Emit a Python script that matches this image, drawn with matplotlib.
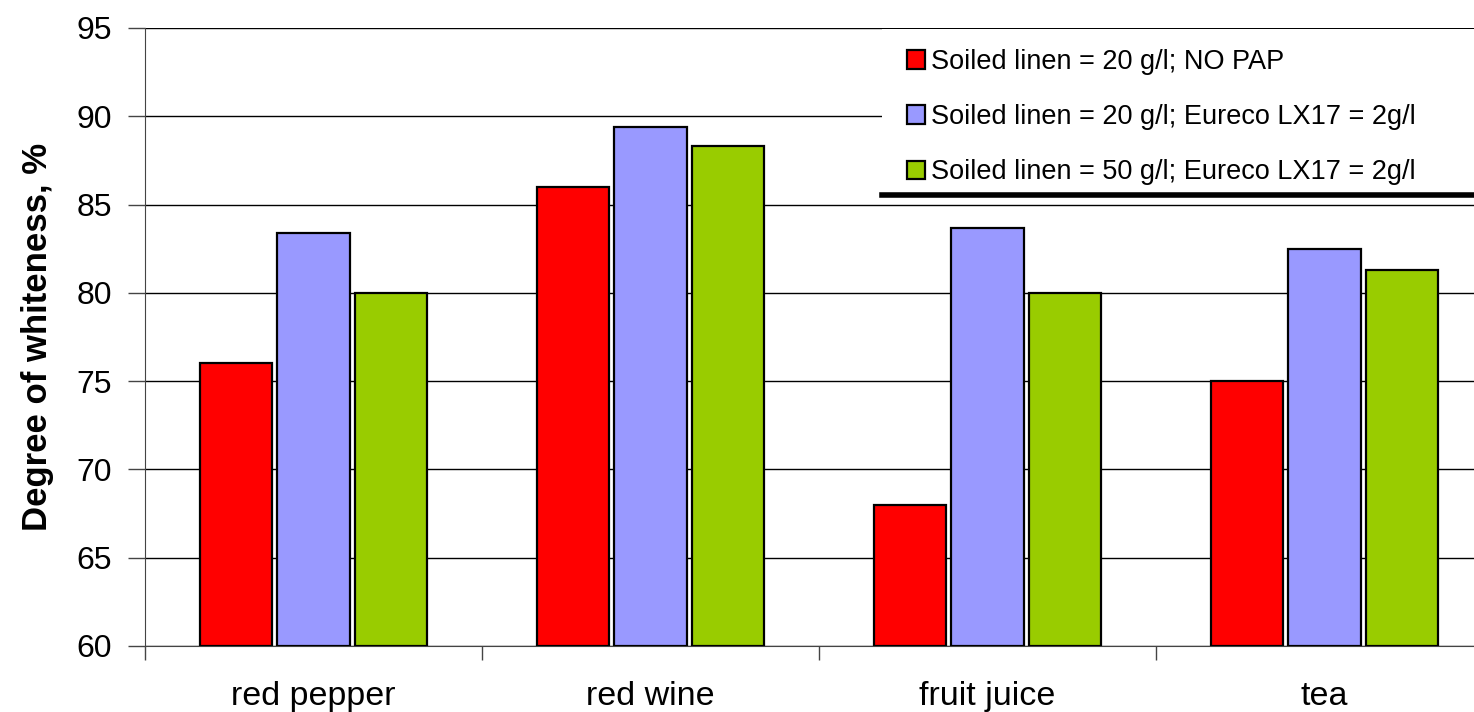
import numpy as np
import matplotlib
matplotlib.use("Agg")
import matplotlib.pyplot as plt
from matplotlib.patches import Rectangle
from matplotlib.lines import Line2D

plt.rcParams['font.family'] = ['Liberation Sans', 'DejaVu Sans']

categories = ['red pepper', 'red wine', 'fruit juice', 'tea']
series_names = ['Soiled linen = 20 g/l; NO PAP',
                'Soiled linen = 20 g/l; Eureco LX17 = 2g/l',
                'Soiled linen = 50 g/l; Eureco LX17 = 2g/l']
no_pap = [76.0, 86.0, 68.0, 75.0]
lx17_20 = [83.4, 89.4, 83.7, 82.5]
lx17_50 = [80.0, 88.3, 80.0, 81.3]
colors = ['#FF0000', '#9999FF', '#99CC00']

fig = plt.figure(figsize=(14.74, 7.12), dpi=100)
# axes extends past the right edge like the cropped original
ax = fig.add_axes([145 / 1474, 66 / 712, 1348 / 1474, 618 / 712])

x = np.arange(len(categories))
w = 0.214
step = 0.231
for i, (vals, c) in enumerate(zip([no_pap, lx17_20, lx17_50], colors)):
    ax.bar(x + (i - 1) * step, np.array(vals) - 60, bottom=60, width=w,
           color=c, edgecolor='black', linewidth=1.6, zorder=3,
           label=series_names[i])

ax.set_xlim(-0.5, 3.5)
ax.set_ylim(60, 95)
ax.set_yticks(np.arange(60, 96, 5))
ax.yaxis.grid(True, color='black', linewidth=1.0, zorder=0)
ax.set_axisbelow(True)
ax.set_xticks(x)
ax.set_xticklabels(categories, fontsize=24.5)
ax.tick_params(axis='x', length=0, pad=25)
ax.set_xticks(np.arange(-0.5, 4.0, 1.0), minor=True)
ax.tick_params(axis='x', which='minor', length=10, width=1, color='#444444', direction='out')
ax.tick_params(axis='y', labelsize=23, length=12, width=1, color='#444444', direction='out', pad=12)
for s in ['top', 'right']:
    ax.spines[s].set_visible(False)
ax.spines['left'].set_color('#444444')
ax.spines['bottom'].set_color('#444444')
ax.set_ylabel('Degree of whiteness, %', fontsize=25, fontweight='bold', labelpad=16)

# legend panel
ax.add_patch(Rectangle((882 / 1474, 1 - 195 / 712), 0.6, (195 - 29) / 712,
                       transform=fig.transFigure,
                       facecolor='white', edgecolor='none', zorder=4))
fig.add_artist(Line2D([882 / 1474, 1.0], [1 - 195 / 712, 1 - 195 / 712],
                      color='black', linewidth=4, zorder=5))
handles, labels = ax.get_legend_handles_labels()
leg = fig.legend(handles, labels, loc='upper left',
                 bbox_to_anchor=(896 / 1474, 1 - 38 / 712),
                 frameon=False, fontsize=19.5, handlelength=0.68, handleheight=0.68,
                 handletextpad=0.2, labelspacing=1.08, borderaxespad=0)
leg.set_zorder(6)

fig.savefig('out.png', dpi=100)
